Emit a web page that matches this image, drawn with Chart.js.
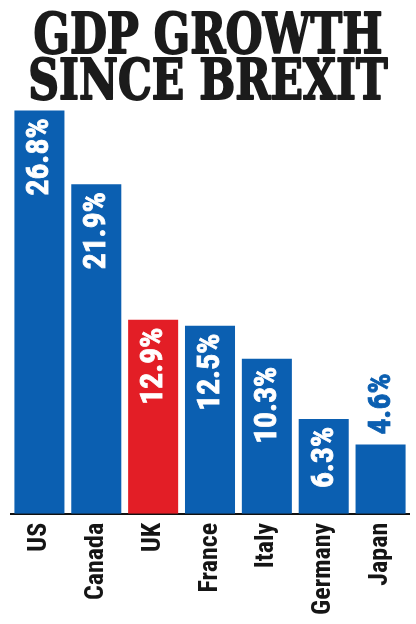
<!DOCTYPE html>
<html>
<head>
<meta charset="utf-8">
<script src="https://cdn.jsdelivr.net/npm/chart.js@4"></script>
<style>
  html, body { margin: 0; padding: 0; background: #fff; }
  #wrap { width: 416px; height: 624px; }
</style>
</head>
<body>
<div id="wrap"><canvas id="gdpChart"></canvas></div>
<script>
const titleLines = ['GDP GROWTH', 'SINCE BREXIT'];
const countries = ['US', 'Canada', 'UK', 'France', 'Italy', 'Germany', 'Japan'];
const growth = [26.8, 21.9, 12.9, 12.5, 10.3, 6.3, 4.6];
const barColors = ['#0b5fb1', '#0b5fb1', '#e31e26', '#0b5fb1', '#0b5fb1', '#0b5fb1', '#0b5fb1'];

const condensed = '"Roboto Condensed", "Liberation Sans Narrow", "DejaVu Sans Condensed", sans-serif';

// big slab headline, squeezed to the width of the reference
const headline = {
    id: 'headline',
    beforeDraw(chart) {
        const ctx = chart.ctx;
        ctx.save();
        ctx.font = 'bold 56px "DejaVu Serif", serif';
        ctx.fillStyle = '#1b1b1b';
        ctx.strokeStyle = '#1b1b1b';
        ctx.lineWidth = 2;
        ctx.lineJoin = 'round';
        ctx.textAlign = 'center';
        ctx.textBaseline = 'alphabetic';
        const sx = 349 / ctx.measureText(titleLines[0]).width;
        [53, 99].forEach((y, i) => {
            ctx.save();
            ctx.translate(208, y);
            ctx.scale(sx, 1);
            ctx.fillText(titleLines[i], 0, 0);
            ctx.strokeText(titleLines[i], 0, 0);
            ctx.restore();
        });
        ctx.restore();
    }
};

// percentage labels drawn sideways, inside the bar or just above it if it won't fit
const valueLabels = {
    id: 'valueLabels',
    afterDatasetsDraw(chart) {
        const ctx = chart.ctx;
        const meta = chart.getDatasetMeta(0);
        ctx.save();
        ctx.font = 'bold 32px ' + condensed;
        ctx.textBaseline = 'middle';
        const sx = 77 / ctx.measureText('12.9%').width;
        meta.data.forEach((bar, i) => {
            const txt = growth[i].toFixed(1) + '%';
            const w = ctx.measureText(txt).width * sx;
            const h = bar.base - bar.y;
            ctx.save();
            if (h > w + 14) {
                ctx.translate(bar.x, bar.y + 8);
                ctx.rotate(-Math.PI / 2);
                ctx.scale(sx, 1);
                ctx.textAlign = 'right';
                ctx.fillStyle = '#ffffff';
                ctx.strokeStyle = '#ffffff';
            } else {
                ctx.translate(bar.x, bar.y - 10);
                ctx.rotate(-Math.PI / 2);
                ctx.scale(sx, 1);
                ctx.textAlign = 'left';
                ctx.fillStyle = barColors[i];
                ctx.strokeStyle = barColors[i];
            }
            ctx.lineWidth = 0.8;
            ctx.fillText(txt, 0, 1);
            ctx.strokeText(txt, 0, 1);
            ctx.restore();
        });
        ctx.restore();
    }
};

new Chart(document.getElementById('gdpChart').getContext('2d'), {
    type: 'bar',
    data: {
        labels: countries,
        datasets: [{
            data: growth,
            backgroundColor: barColors,
            barPercentage: 0.88,
            categoryPercentage: 1
        }]
    },
    options: {
        responsive: true,
        maintainAspectRatio: false,
        animation: false,
        layout: { padding: { left: 11, right: 7, top: 103, bottom: 0 } },
        plugins: {
            legend: { display: false },
            tooltip: { enabled: false },
            title: { display: false }
        },
        scales: {
            x: {
                grid: { display: false, drawTicks: false },
                border: { display: true, color: '#111', width: 2 },
                afterFit(scale) {
                    // rotated labels sit inside the bars' width, no extra side room needed
                    scale.paddingLeft = 0;
                    scale.paddingRight = 0;
                },
                ticks: {
                    minRotation: 90,
                    maxRotation: 90,
                    padding: 9,
                    color: '#151515',
                    font: { family: condensed, weight: 'bold', size: 26 }
                }
            },
            y: {
                display: false,
                min: 0,
                max: 27.3
            }
        }
    },
    plugins: [headline, valueLabels]
});
</script>
</body>
</html>
